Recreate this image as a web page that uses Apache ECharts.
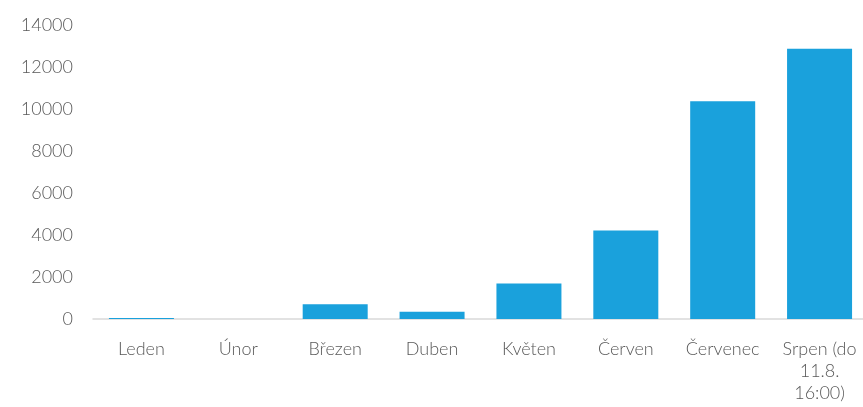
<!DOCTYPE html>
<html>
<head>
<meta charset="utf-8">
<script src="https://cdn.jsdelivr.net/npm/echarts@6/dist/echarts.min.js"></script>
<style>
  html, body { margin: 0; padding: 0; background: #fff; }
  #chart { width: 863px; height: 407px; }
</style>
</head>
<body>
<div id="chart"></div>
<script>
const categories = ['Leden', 'Únor', 'Březen', 'Duben', 'Květen', 'Červen', 'Červenec', 'Srpen (do\n11.8.\n16:00)'];
const values = [50, 0, 700, 340, 1690, 4220, 10370, 12870];
const yTicks = [0, 14000, 2000]; // min, max, interval

const labelFont = {
  color: '#595959',
  fontSize: 18,
  fontFamily: 'Lato, sans-serif',
  fontWeight: 300
};

const chart = echarts.init(document.getElementById('chart'));

chart.setOption({
  animation: false,
  grid: {
    left: 93,
    width: 775,
    top: 25,
    bottom: 88,
    outerBoundsMode: 'none'
  },
  xAxis: {
    type: 'category',
    data: categories,
    axisLine: {lineStyle: {color: '#d9d9d9', width: 1.5}},
    axisTick: {show: false},
    axisLabel: Object.assign({margin: 19, interval: 0, lineHeight: 22}, labelFont)
  },
  yAxis: {
    type: 'value',
    min: yTicks[0],
    max: yTicks[1],
    interval: yTicks[2],
    splitLine: {show: false},
    axisLine: {show: false},
    axisLabel: Object.assign({margin: 20, formatter: (v) => String(v)}, labelFont)
  },
  series: [
    {
      type: 'bar',
      data: values,
      barWidth: 65,
      itemStyle: {
        color: '#1aa1dc'
      }
    }
  ]
});
</script>
</body>
</html>
